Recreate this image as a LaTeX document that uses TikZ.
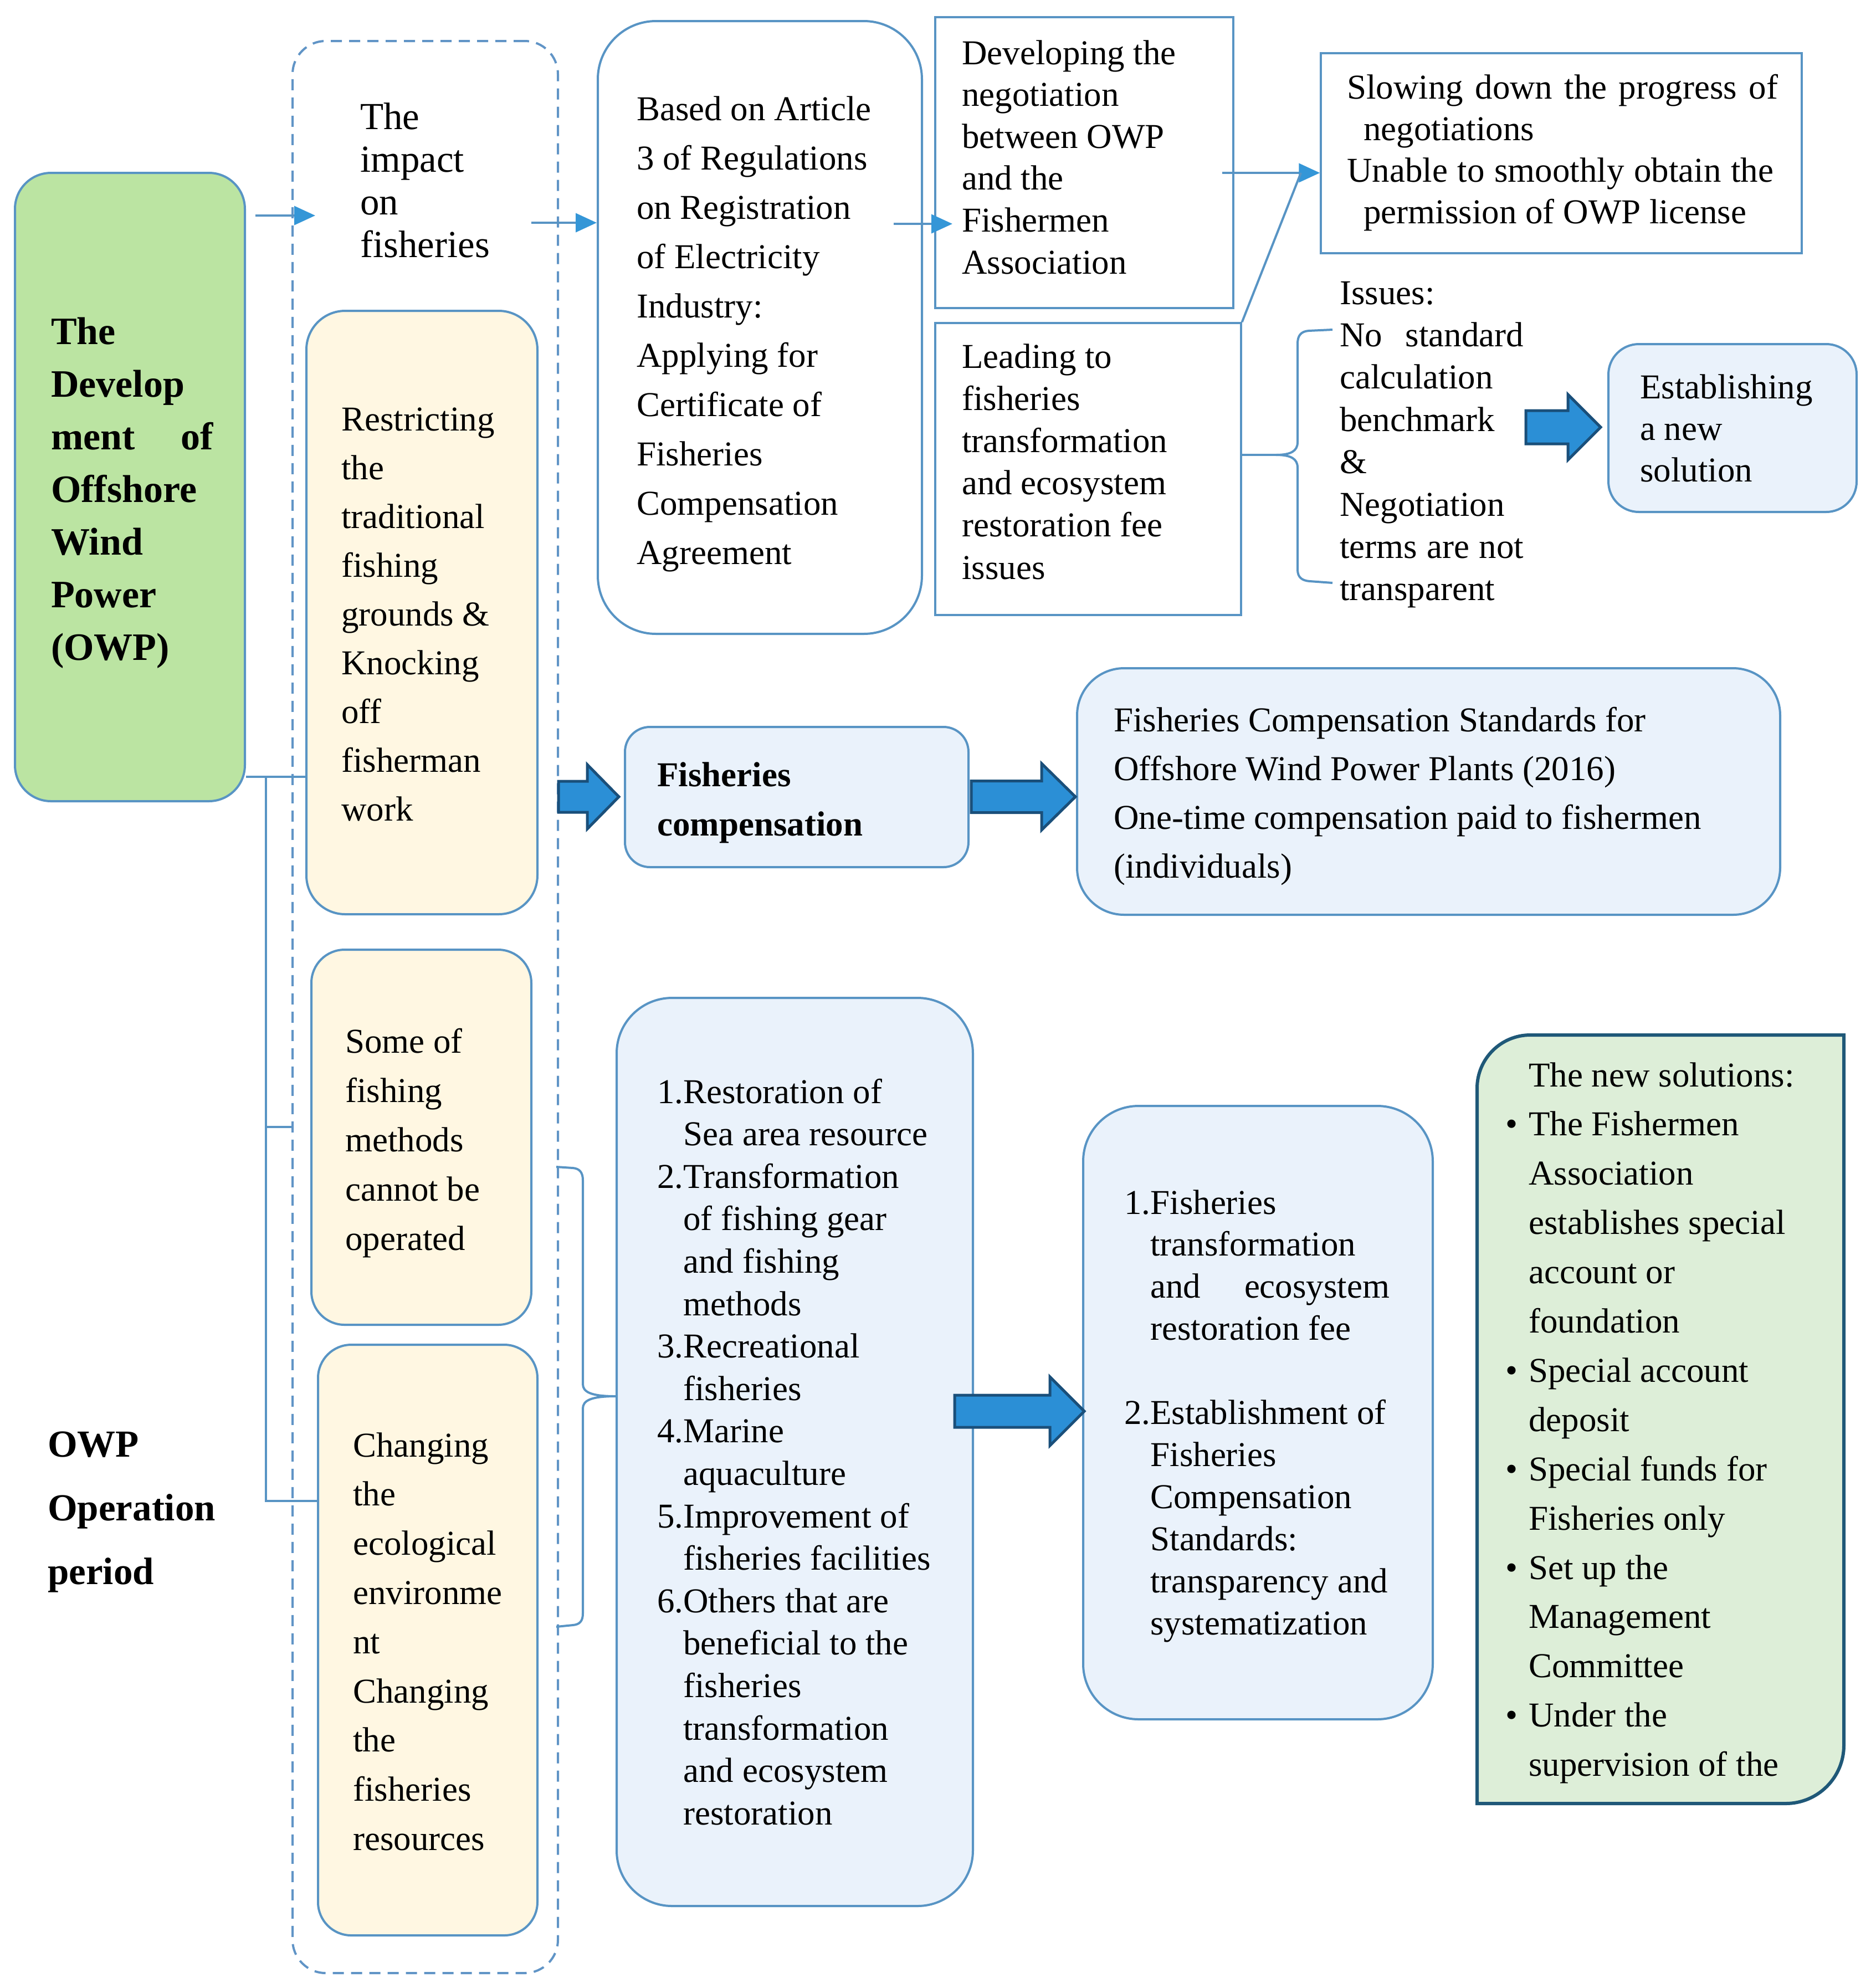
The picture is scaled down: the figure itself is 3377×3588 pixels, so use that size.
\documentclass[tikz,border=0pt]{standalone}
\usepackage{fontspec}
\setmainfont{Liberation Serif}
\usetikzlibrary{arrows.meta}
\definecolor{lineblue}{RGB}{88,148,196}
\definecolor{dashblue}{RGB}{96,148,198}
\definecolor{tipblue}{RGB}{52,150,215}
\definecolor{arrowfill}{RGB}{43,143,214}
\definecolor{arrowdark}{RGB}{26,79,122}
\definecolor{greenfill}{RGB}{187,228,162}
\definecolor{creamfill}{RGB}{255,247,226}
\definecolor{bluefill}{RGB}{234,242,251}
\definecolor{solfill}{RGB}{221,238,216}
\definecolor{solborder}{RGB}{31,88,120}
\newcommand\tx[3]{\parbox[t]{1400pt}{\fontsize{#1}{#2}\selectfont\raggedright #3}}
\newcommand\bx[6]{\node[#1, minimum width={(#5-#3)*1pt}, minimum height={(#6-#4)*1pt}] (#2) at ({(#3+#5)/2},{(#4+#6)/2}) {};}
\newcommand\bigarr[6]{\draw[bigarrow] (#1,{#4-#5}) -- (#2,{#4-#5}) -- (#2,{#4-#6}) -- (#3,#4) -- (#2,{#4+#6}) -- (#2,{#4+#5}) -- (#1,{#4+#5}) -- cycle;}
\newcommand\bul{\leavevmode\hbox to 0pt{\hss\char"2022\hskip 20pt}}
\begin{document}
\begin{tikzpicture}[x=1pt,y=-1pt,
  rbox/.style={draw=lineblue, line width=4pt, inner sep=0pt, rounded corners=#1},
  sbox/.style={draw=lineblue, line width=3.5pt, inner sep=0pt},
  dbox/.style={draw=dashblue, line width=4pt, inner sep=0pt, rounded corners=60pt, dash pattern=on 20pt off 13pt},
  txt/.style={anchor=base west, inner sep=0pt},
  ln/.style={draw=lineblue, line width=4pt},
  arr/.style={draw=lineblue, line width=4pt, -{Triangle[length=38pt,width=34pt,color=tipblue]}},
  bigarrow/.style={fill=arrowfill, draw=arrowdark, line width=5pt, line join=miter}
]
\useasboundingbox (0,0) rectangle (3377,3588);

% boxes
\bx{rbox=65pt, fill=greenfill}{green}{27}{312}{442}{1446}
\bx{dbox}{dash}{528}{74}{1007}{3561}
\bx{rbox=70pt, fill=creamfill}{restr}{553}{561}{970}{1650}
\bx{rbox=60pt, fill=creamfill}{some}{562}{1714}{959}{2391}
\bx{rbox=60pt, fill=creamfill}{chg}{574}{2427}{970}{3493}
\bx{rbox=105pt}{based}{1079}{38}{1664}{1144}
\bx{sbox}{dev}{1688}{31}{2226}{556}
\bx{sbox}{lead}{1688}{583}{2240}{1110}
\bx{sbox}{slow}{2384}{96}{3252}{457}
\bx{rbox=55pt, fill=bluefill}{est}{2903}{621}{3351}{924}
\bx{rbox=45pt, fill=bluefill}{fc}{1128}{1312}{1748}{1565}
\bx{rbox=85pt, fill=bluefill}{std}{1944}{1206}{3213}{1651}
\bx{rbox=100pt, fill=bluefill}{list}{1113}{1801}{1756}{3440}
\bx{rbox=100pt, fill=bluefill}{fee}{1955}{1996}{2586}{3103}
\path[draw=solborder, fill=solfill, line width=6pt]
  (2666,3255) -- (2666,1964) .. controls (2666,1911) and (2709,1868) .. (2762,1868)
  -- (3328,1868) -- (3328,3150) .. controls (3328,3208) and (3281,3255) .. (3223,3255) -- cycle;

% texts
\node[txt] (t_green) at (92,621) {\tx{70}{95}{\bfseries The\\Develop\\\makebox[293pt][s]{ment of}\\Offshore\\Wind\\Power\\(OWP)}};
\node[txt] (t_op) at (86,2629) {\tx{69}{115}{\bfseries OWP\\Operation\\period}};
\node[txt] (t_impact) at (650,233) {\tx{69}{77}{The\\impact\\on\\fisheries}};
\node[txt] (t_restr) at (616,777) {\tx{63}{88}{Restricting\\the\\traditional\\fishing\\grounds \&\\Knocking\\off\\fisherman\\work}};
\node[txt] (t_some) at (623,1900) {\tx{63}{89}{Some of\\fishing\\methods\\cannot be\\operated}};
\node[txt] (t_chg) at (637,2629) {\tx{63}{88.8}{Changing\\the\\ecological\\environme\\nt\\Changing\\the\\fisheries\\resources}};
\node[txt] (t_based) at (1149,217) {\tx{63}{89}{Based on Article\\3 of Regulations\\on Registration\\of Electricity\\Industry:\\Applying for\\Certificate of\\Fisheries\\Compensation\\Agreement}};
\node[txt] (t_dev) at (1736,116) {\tx{63}{75.6}{Developing the\\negotiation\\between OWP\\and the\\Fishermen\\Association}};
\node[txt] (t_lead) at (1736,664) {\tx{63}{76.2}{Leading to\\fisheries\\transformation\\and ecosystem\\restoration fee\\issues}};
\node[txt] (t_slow) at (2431,178) {\tx{63}{75}{\makebox[778pt][s]{Slowing down the progress of}\\\hspace*{30pt}negotiations\\\makebox[770pt][s]{Unable to smoothly obtain the}\\\hspace*{30pt}permission of OWP license}};
\node[txt] (t_issues) at (2418,549) {\tx{63}{76.4}{Issues:\\\makebox[332pt][s]{No standard}\\calculation\\benchmark\\\&\\Negotiation\\\makebox[332pt][s]{terms are not}\\transparent}};
\node[txt] (t_est) at (2960,719) {\tx{63}{75}{Establishing\\a new\\solution}};
\node[txt] (t_fc) at (1186,1419) {\tx{63}{89}{\bfseries Fisheries\\compensation}};
\node[txt] (t_std) at (2010,1320) {\tx{63}{88}{Fisheries Compensation Standards for\\Offshore Wind Power Plants (2016)\\One-time compensation paid to fishermen\\(individuals)}};
\node[txt] (t_list) at (1186,1991) {\tx{63}{76.6}{1.Restoration of\\\phantom{1.}Sea area resource\\2.Transformation\\\phantom{1.}of fishing gear\\\phantom{1.}and fishing\\\phantom{1.}methods\\3.Recreational\\\phantom{1.}fisheries\\4.Marine\\\phantom{1.}aquaculture\\5.Improvement of\\\phantom{1.}fisheries facilities\\6.Others that are\\\phantom{1.}beneficial to the\\\phantom{1.}fisheries\\\phantom{1.}transformation\\\phantom{1.}and ecosystem\\\phantom{1.}restoration}};
\node[txt] (t_fee) at (2029,2191) {\tx{63}{75.9}{1.Fisheries\\\phantom{1.}transformation\\\phantom{1.}\makebox[432pt][s]{and ecosystem}\\\phantom{1.}restoration fee\\\mbox{}\\2.Establishment of\\\phantom{2.}Fisheries\\\phantom{2.}Compensation\\\phantom{2.}Standards:\\\phantom{2.}transparency and\\\phantom{2.}systematization}};
\node[txt] (t_sol) at (2759,1961) {\tx{63}{88.9}{The new solutions:\\\bul The Fishermen\\Association\\establishes special\\account or\\foundation\\\bul Special account\\deposit\\\bul Special funds for\\Fisheries only\\\bul Set up the\\Management\\Committee\\\bul Under the\\supervision of the}};

% thin connectors
\coordinate (a1s) at (461,389);
\coordinate (a1e) at (569,389);
\coordinate (a2s) at (959,402);
\coordinate (a3s) at (1613,404);
\coordinate (a3e) at (1719,404);
\coordinate (a4s) at (2206,312);
\coordinate (a4m) at (2348,312);
\draw[arr] (a1s) -- (a1e);
\draw[arr] (a2s) -- (based.west |- a2s);
\draw[arr] (a3s) -- (a3e);
\draw[arr] (a4s) -- (slow.west |- a4s);
\draw[ln] (lead.north east) -- (a4m);

% left bracket
\coordinate (c1) at (480,1402);
\coordinate (c2) at (480,2034);
\coordinate (c3) at (480,2709);
\draw[ln] (green.east |- c1) -- (restr.west |- c1);
\draw[ln] (c1) -- (c3) -- (chg.west |- c3);
\draw[ln] (c2) -- (dash.west |- c2);

% right brace to issues
\coordinate (br) at (2303,821);
\draw[ln] (lead.east |- br) -- (br);
\draw[ln, line join=round] (2405,595) -- (2362,597) .. controls (2348,598) and (2342,606) .. (2342,620)
  -- (2342,798) .. controls (2342,814) and (2330,821) .. (br)
  .. controls (2330,821) and (2342,828) .. (2342,844)
  -- (2342,1028) .. controls (2342,1042) and (2350,1048) .. (2364,1049) -- (2405,1052);

% brace to list
\coordinate (lb) at (list.west |- 0,2520);
\draw[ln, line join=round] (1004,2106) -- (1034,2108) .. controls (1046,2109) and (1052,2116) .. (1052,2130)
  -- (1052,2498) .. controls (1052,2512) and (1066,2520) .. (lb)
  .. controls (1066,2520) and (1052,2528) .. (1052,2542)
  -- (1052,2912) .. controls (1052,2926) and (1046,2932) .. (1034,2933) -- (1004,2936);

% big arrows
\bigarr{1008}{1060}{1117}{1438}{28}{58}
\bigarr{1753}{1880}{1941}{1438}{28.5}{60}
\bigarr{1723}{1895}{1957}{2547}{29}{62}
\bigarr{2754}{2830}{2889}{771}{30}{59}
\end{tikzpicture}
\end{document}
